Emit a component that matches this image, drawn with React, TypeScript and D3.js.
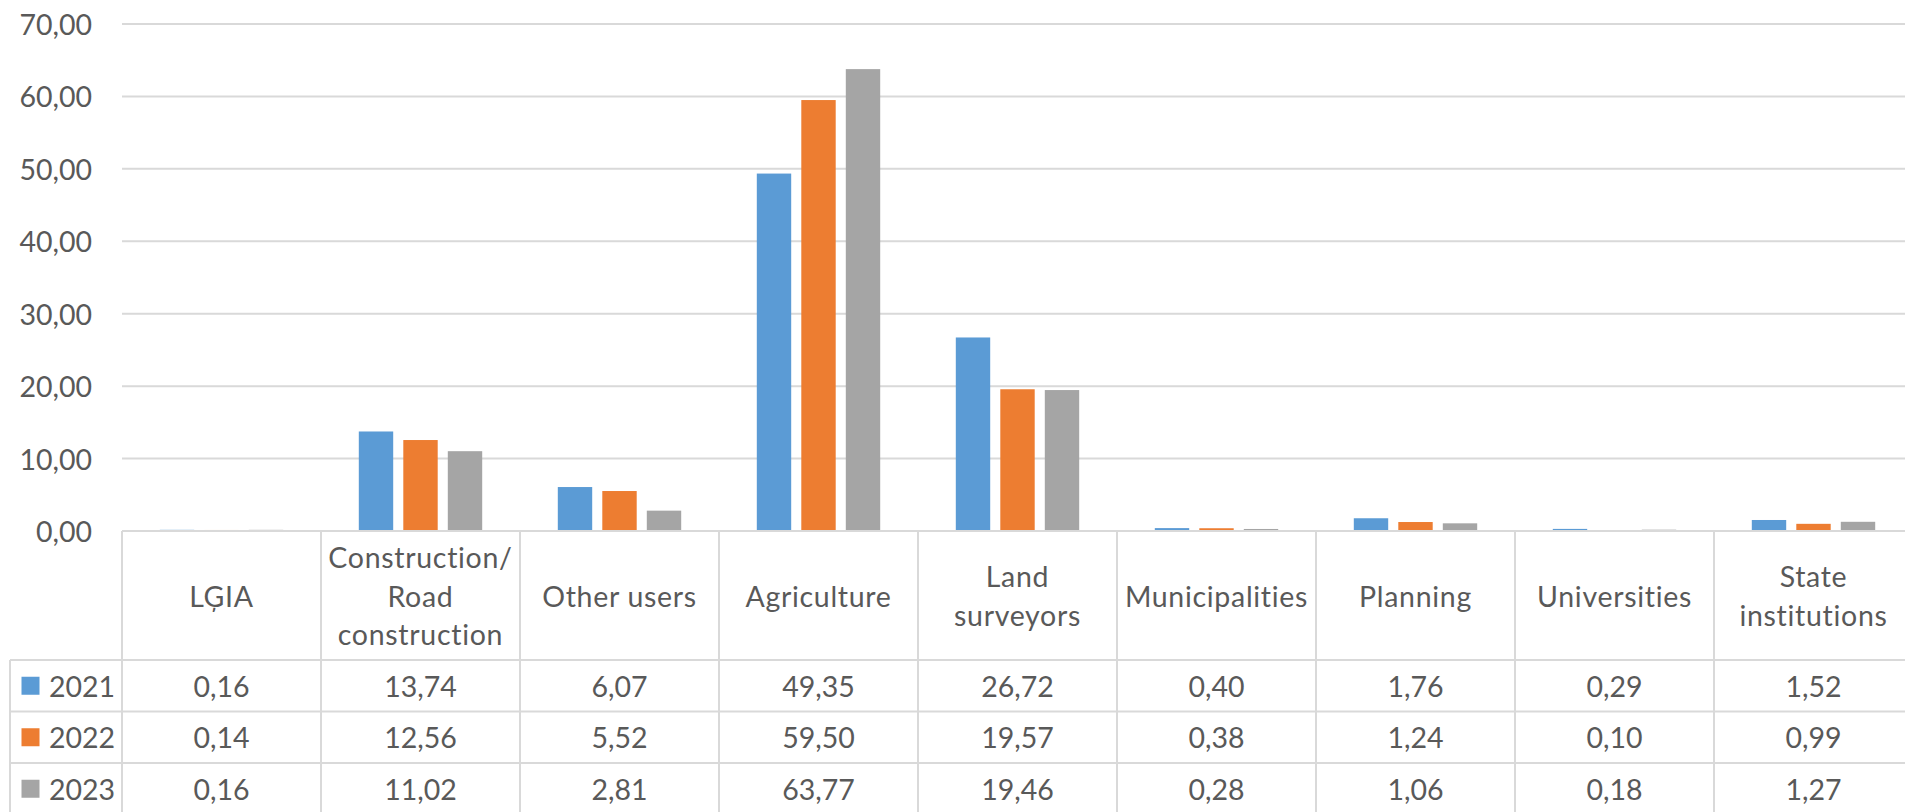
import React from "react";
import * as d3 from "d3";

const categories = [
  "LĢIA",
  "Construction/\nRoad\nconstruction",
  "Other users",
  "Agriculture",
  "Land\nsurveyors",
  "Municipalities",
  "Planning",
  "Universities",
  "State\ninstitutions",
];
const years = ["2021", "2022", "2023"];
const values2021 = [0.16, 13.74, 6.07, 49.35, 26.72, 0.4, 1.76, 0.29, 1.52];
const values2022 = [0.14, 12.56, 5.52, 59.5, 19.57, 0.38, 1.24, 0.1, 0.99];
const values2023 = [0.16, 11.02, 2.81, 63.77, 19.46, 0.28, 1.06, 0.18, 1.27];
const yTicks = [0, 10, 20, 30, 40, 50, 60, 70];
const colors = ["#5b9bd5", "#ed7d31", "#a5a5a5"];

const seriesValues = [values2021, values2022, values2023];

const W = 1905;
const H = 812;
const FONT = "Lato, 'Open Sans', sans-serif";
const FS = 28.5;
const TEXT = "#595959";
const LINE = "#d9d9d9";

const plotLeft = 122;
const colWidth = 199;
const headerBottom = 660;
const rowH = 51.5;
const legendLeft = 10;

const fmt = (v: number) => v.toFixed(2).replace(".", ",");

export default function App() {
  const x = d3
    .scaleBand<string>()
    .domain(categories)
    .range([plotLeft, plotLeft + colWidth * categories.length])
    .padding(0);
  const y = d3.scaleLinear().domain([0, 70]).range([531, 24]);
  const inner = d3
    .scaleBand<string>()
    .domain(years)
    .range([-66.75, 66.75])
    .paddingInner(0.227)
    .paddingOuter(0.1135);

  const y0 = y(0);
  const tableBottom = headerBottom + rowH * years.length;

  return (
    <svg
      width={W}
      height={H}
      style={{
        position: "absolute",
        left: 0,
        top: 0,
        background: "#fff",
        fontVariantLigatures: "none",
        fontFeatureSettings: "'liga' 0, 'clig' 0",
      }}
      fontFamily={FONT}
    >
      {/* horizontal gridlines */}
      {yTicks
        .filter((t) => t > 0)
        .map((t) => (
          <line key={t} x1={plotLeft} x2={W + 20} y1={y(t)} y2={y(t)} stroke={LINE} strokeWidth={2} />
        ))}
      {/* y-axis labels */}
      {yTicks.map((t) => (
        <text
          key={t}
          x={92}
          y={y(t)}
          textAnchor="end"
          dominantBaseline="central"
          fontSize={FS}
          fill={TEXT}
        >
          {fmt(t)}
        </text>
      ))}
      {/* bars */}
      {categories.map((c, ci) => {
        const cx = (x(c) as number) + x.bandwidth() / 2;
        return years.map((yr, si) => {
          const v = seriesValues[si][ci];
          return (
            <rect
              key={c + yr}
              x={cx + (inner(yr) as number)}
              width={inner.bandwidth()}
              y={y(v)}
              height={y0 - y(v)}
              fill={colors[si]}
            />
          );
        });
      })}
      {/* data table: horizontal rules */}
      <line x1={plotLeft} x2={W + 20} y1={y0} y2={y0} stroke={LINE} strokeWidth={2} />
      {d3.range(years.length + 1).map((i) => (
        <line
          key={"h" + i}
          x1={legendLeft}
          x2={W + 20}
          y1={headerBottom + i * rowH}
          y2={headerBottom + i * rowH}
          stroke={LINE}
          strokeWidth={2}
        />
      ))}
      {/* data table: vertical rules */}
      <line x1={legendLeft} x2={legendLeft} y1={headerBottom} y2={tableBottom} stroke={LINE} strokeWidth={2} />
      {d3.range(categories.length + 1).map((i) => (
        <line
          key={"v" + i}
          x1={plotLeft + i * colWidth}
          x2={plotLeft + i * colWidth}
          y1={y0}
          y2={tableBottom}
          stroke={LINE}
          strokeWidth={2}
        />
      ))}
      {/* category headers */}
      {categories.map((c) => {
        const lines = c.split("\n");
        const cx = (x(c) as number) + x.bandwidth() / 2;
        const mid = (y0 + headerBottom) / 2;
        const lh = 38.5;
        return (
          <text key={"hd" + c} textAnchor="middle" fontSize={FS} fill={TEXT} letterSpacing={0.7}>
            {lines.map((l, li) => (
              <tspan
                key={li}
                x={cx}
                y={mid + (li - (lines.length - 1) / 2) * lh}
                dominantBaseline="central"
              >
                {l}
              </tspan>
            ))}
          </text>
        );
      })}
      {/* legend keys and values */}
      {years.map((yr, si) => {
        const cy = headerBottom + si * rowH + rowH / 2;
        return (
          <g key={"row" + yr}>
            <rect x={21.5} y={cy - 9} width={18} height={18} fill={colors[si]} />
            <text x={49} y={cy} dominantBaseline="central" fontSize={FS} fill={TEXT}>
              {yr}
            </text>
            {categories.map((c, ci) => (
              <text
                key={c}
                x={(x(c) as number) + x.bandwidth() / 2}
                y={cy}
                textAnchor="middle"
                dominantBaseline="central"
                fontSize={FS}
                fill={TEXT}
              >
                {fmt(seriesValues[si][ci])}
              </text>
            ))}
          </g>
        );
      })}
    </svg>
  );
}
